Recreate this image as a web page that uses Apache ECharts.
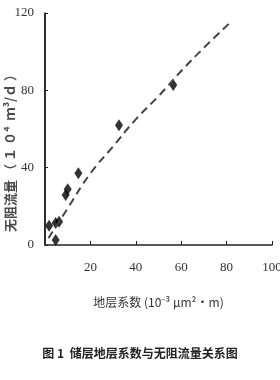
<!DOCTYPE html>
<html><head><meta charset="utf-8">
<script src="https://cdn.jsdelivr.net/npm/echarts@6/dist/echarts.min.js"></script>
<style>html,body{margin:0;padding:0;background:#fff}#c{width:280px;height:380px}</style>
</head><body><div id="c"></div>
<script>
// measured points: [地层系数, 无阻流量]
const pointsX = [1.8, 4.7, 4.7, 6.2, 9.1, 10.0, 14.7, 32.6, 56.5];
const pointsY = [10.0, 2.6, 11.4, 12.0, 25.9, 28.8, 37.1, 62.0, 82.8];
// dashed trend line
const trendX = [1.5, 10, 20, 30, 40, 50, 60, 70, 81.5];
const trendY = [3.5, 19, 37, 51, 65, 77, 90, 102, 115];
const xTicks = [0, 20, 40, 60, 80, 100];
const yTicks = [0, 40, 80, 120];
const xName = '地层系数 (10⁻³ μm²·m)';
const yName = '无阻流量 （ １ ０⁴  ｍ³/ｄ ）';
const caption = '图 1  储层地层系数与无阻流量关系图';

const chart = echarts.init(document.getElementById('c'), null, {renderer: 'canvas'});
const serif = '"Liberation Serif", "DejaVu Serif", serif';
const cjk = '"Noto Sans CJK SC", "Liberation Serif", serif';
chart.setOption({
  animation: false,
  backgroundColor: '#fff',
  title: {
    text: caption, left: 'center', top: 342,
    textStyle: {fontFamily: cjk, fontSize: 12, fontWeight: 'bold', color: '#222'}
  },
  graphic: [{
    type: 'text', rotation: Math.PI / 2, x: 10, y: 150,
    style: {
      text: yName, fontFamily: cjk, fontSize: 13, fontWeight: 'bold', fill: '#4a4a4a',
      align: 'center', verticalAlign: 'middle'
    }
  }],
  grid: {left: 45, right: 8, top: 13, bottom: 135, containLabel: false, outerBoundsMode: 'none'},
  xAxis: {
    type: 'value', min: xTicks[0], max: xTicks[xTicks.length - 1], interval: 20,
    splitLine: {show: false},
    axisLine: {show: true, onZero: false, lineStyle: {color: '#222', width: 1.5}},
    axisTick: {show: true, inside: true, length: 4, lineStyle: {color: '#222'}},
    axisLabel: {showMinLabel: false, margin: 16, fontFamily: serif, fontSize: 13, color: '#333'},
    name: xName, nameLocation: 'middle', nameGap: 51,
    nameTextStyle: {fontFamily: cjk, fontSize: 12, color: '#333'}
  },
  yAxis: {
    type: 'value', min: yTicks[0], max: yTicks[yTicks.length - 1], interval: 40,
    position: 'left',
    splitLine: {show: false},
    axisLine: {show: true, onZero: false, lineStyle: {color: '#222', width: 1.5}},
    axisTick: {show: true, inside: true, length: 3, lineStyle: {color: '#222'}},
    axisLabel: {margin: 11, fontFamily: serif, fontSize: 13, color: '#333'}
  },
  series: [
    {
      type: 'line', data: trendX.map((x, i) => [x, trendY[i]]),
      smooth: true, showSymbol: false,
      lineStyle: {color: '#444', width: 2, type: [8, 5]},
      markLine: {
        silent: true, symbol: 'none', animation: false,
        label: {show: false},
        lineStyle: {color: '#222', width: 1.5, type: 'solid'},
        data: [{xAxis: xTicks[0]}]
      }
    },
    {
      type: 'scatter', data: pointsX.map((x, i) => [x, pointsY[i]]),
      symbol: 'diamond', symbolSize: [8, 12],
      itemStyle: {color: '#000'}
    }
  ]
});
</script></body></html>
